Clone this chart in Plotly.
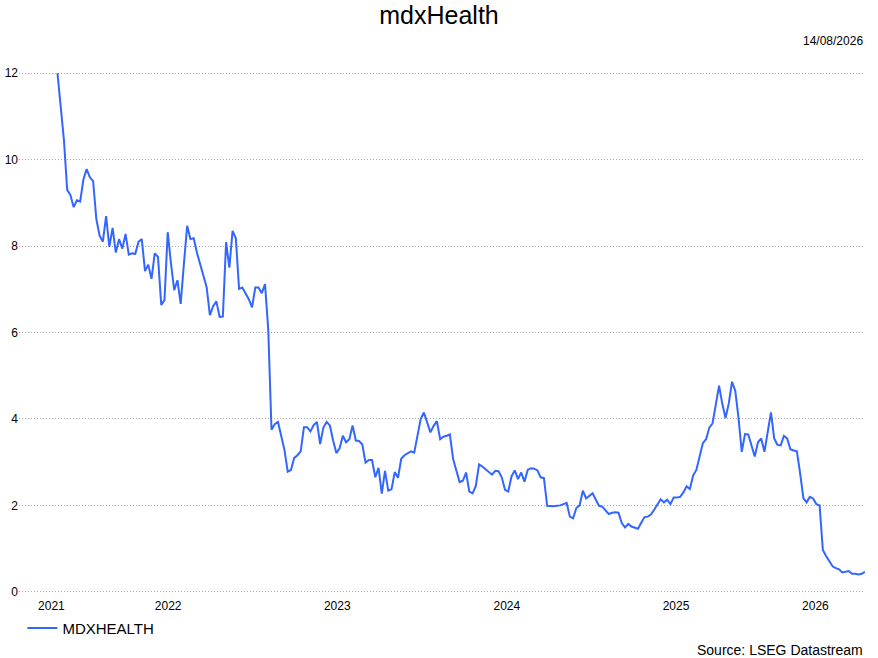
import plotly.graph_objects as go

TITLE = "mdxHealth"
AS_OF = "14/08/2026"
SERIES_NAME = "MDXHEALTH"
SOURCE = "Source: LSEG Datastream"

# weekly closes (Fridays)
DATES = [
    "2021-11-05", "2021-11-12", "2021-11-19", "2021-11-26",
    "2021-12-03", "2021-12-10", "2021-12-17", "2021-12-24", "2021-12-31",
    "2022-01-07", "2022-01-14", "2022-01-21", "2022-01-28",
    "2022-02-04", "2022-02-11", "2022-02-18", "2022-02-25",
    "2022-03-04", "2022-03-11", "2022-03-18", "2022-03-25",
    "2022-04-01", "2022-04-08", "2022-04-15", "2022-04-22", "2022-04-29",
    "2022-05-06", "2022-05-13", "2022-05-20", "2022-05-27",
    "2022-06-03", "2022-06-10", "2022-06-17", "2022-06-24",
    "2022-07-01", "2022-07-08", "2022-07-15", "2022-07-22", "2022-07-29",
    "2022-08-05", "2022-08-12", "2022-08-19", "2022-08-26",
    "2022-09-02", "2022-09-09", "2022-09-16", "2022-09-23", "2022-09-30",
    "2022-10-07", "2022-10-14", "2022-10-21", "2022-10-28",
    "2022-11-04", "2022-11-11", "2022-11-18", "2022-11-25",
    "2022-12-02", "2022-12-09", "2022-12-16", "2022-12-23", "2022-12-30",
    "2023-01-06", "2023-01-13", "2023-01-20", "2023-01-27",
    "2023-02-03", "2023-02-10", "2023-02-17", "2023-02-24",
    "2023-03-03", "2023-03-10", "2023-03-17", "2023-03-24", "2023-03-31",
    "2023-04-07", "2023-04-14", "2023-04-21", "2023-04-28",
    "2023-05-05", "2023-05-12", "2023-05-19", "2023-05-26",
    "2023-06-02", "2023-06-09", "2023-06-16", "2023-06-23", "2023-06-30",
    "2023-07-07", "2023-07-14", "2023-07-21", "2023-07-28",
    "2023-08-04", "2023-08-11", "2023-08-18", "2023-08-25",
    "2023-09-01", "2023-09-08", "2023-09-15", "2023-09-22", "2023-09-29",
    "2023-10-06", "2023-10-13", "2023-10-20", "2023-10-27",
    "2023-11-03", "2023-11-10", "2023-11-17", "2023-11-24",
    "2023-12-01", "2023-12-08", "2023-12-15", "2023-12-22", "2023-12-29",
    "2024-01-05", "2024-01-12", "2024-01-19", "2024-01-26",
    "2024-02-02", "2024-02-09", "2024-02-16", "2024-02-23",
    "2024-03-01", "2024-03-08", "2024-03-15", "2024-03-22", "2024-03-29",
    "2024-04-05", "2024-04-12", "2024-04-19", "2024-04-26",
    "2024-05-03", "2024-05-10", "2024-05-17", "2024-05-24", "2024-05-31",
    "2024-06-07", "2024-06-14", "2024-06-21", "2024-06-28",
    "2024-07-05", "2024-07-12", "2024-07-19", "2024-07-26",
    "2024-08-02", "2024-08-09", "2024-08-16", "2024-08-23", "2024-08-30",
    "2024-09-06", "2024-09-13", "2024-09-20", "2024-09-27",
    "2024-10-04", "2024-10-11", "2024-10-18", "2024-10-25",
    "2024-11-01", "2024-11-08", "2024-11-15", "2024-11-22", "2024-11-29",
    "2024-12-06", "2024-12-13", "2024-12-20", "2024-12-27",
    "2025-01-03", "2025-01-10", "2025-01-17", "2025-01-24", "2025-01-31",
    "2025-02-07", "2025-02-14", "2025-02-21", "2025-02-28",
    "2025-03-07", "2025-03-14", "2025-03-21", "2025-03-28",
    "2025-04-04", "2025-04-11", "2025-04-18", "2025-04-25",
    "2025-05-02", "2025-05-09", "2025-05-16", "2025-05-23", "2025-05-30",
    "2025-06-06", "2025-06-13", "2025-06-20", "2025-06-27",
    "2025-07-04", "2025-07-11", "2025-07-18", "2025-07-25",
    "2025-08-01", "2025-08-08", "2025-08-15", "2025-08-22", "2025-08-29",
    "2025-09-05", "2025-09-12", "2025-09-19", "2025-09-26",
    "2025-10-03", "2025-10-10", "2025-10-17", "2025-10-24", "2025-10-31",
    "2025-11-07", "2025-11-14", "2025-11-21", "2025-11-28",
    "2025-12-05", "2025-12-12", "2025-12-19", "2025-12-26",
    "2026-01-02", "2026-01-09", "2026-01-16", "2026-01-23", "2026-01-30",
    "2026-02-06", "2026-02-13", "2026-02-20", "2026-02-27",
    "2026-03-06", "2026-03-13", "2026-03-20", "2026-03-27",
    "2026-04-03", "2026-04-10", "2026-04-17", "2026-04-24",
    "2026-05-01", "2026-05-08", "2026-05-15", "2026-05-22", "2026-05-29",
    "2026-06-05", "2026-06-12", "2026-06-19", "2026-06-26",
    "2026-07-03", "2026-07-10", "2026-07-17", "2026-07-24", "2026-07-31",
    "2026-08-07", "2026-08-14",
]

PRICES = [
    12.00, 11.20, 10.45, 9.30, 9.18, 8.90, 9.06, 9.03, 9.54, 9.78,
    9.59, 9.50, 8.62, 8.24, 8.10, 8.69, 7.98, 8.42, 7.85, 8.16,
    7.94, 8.28, 7.80, 7.83, 7.82, 8.10, 8.16, 7.42, 7.57, 7.24,
    7.83, 7.75, 6.64, 6.75, 8.32, 7.60, 6.98, 7.21, 6.66, 7.60,
    8.47, 8.16, 8.18, 7.85, 7.60, 7.30, 7.05, 6.40, 6.61, 6.72,
    6.36, 6.37, 8.09, 7.50, 8.35, 8.18, 7.01, 7.04, 6.89, 6.77,
    6.58, 7.04, 7.04, 6.91, 7.12, 6.06, 3.75, 3.88, 3.93, 3.63,
    3.28, 2.78, 2.82, 3.10, 3.16, 3.25, 3.81, 3.81, 3.71, 3.86,
    3.93, 3.42, 3.80, 3.93, 3.85, 3.50, 3.21, 3.32, 3.61, 3.46,
    3.53, 3.85, 3.50, 3.49, 3.41, 2.99, 3.05, 3.05, 2.65, 2.87,
    2.27, 2.80, 2.34, 2.37, 2.77, 2.64, 3.08, 3.16, 3.21, 3.25,
    3.22, 3.63, 4.00, 4.15, 3.90, 3.69, 3.84, 3.95, 3.53, 3.59,
    3.61, 3.64, 3.07, 2.82, 2.54, 2.57, 2.76, 2.32, 2.28, 2.45,
    2.95, 2.90, 2.84, 2.76, 2.71, 2.80, 2.79, 2.65, 2.36, 2.32,
    2.67, 2.81, 2.61, 2.76, 2.55, 2.82, 2.86, 2.85, 2.81, 2.65,
    2.63, 1.99, 1.98, 1.98, 1.99, 2.00, 2.03, 2.06, 1.74, 1.70,
    1.94, 2.00, 2.34, 2.16, 2.22, 2.28, 2.13, 1.99, 1.97, 1.89,
    1.80, 1.83, 1.84, 1.83, 1.59, 1.49, 1.57, 1.51, 1.49, 1.46,
    1.60, 1.73, 1.74, 1.79, 1.90, 2.03, 2.14, 2.07, 2.13, 2.03,
    2.18, 2.18, 2.20, 2.30, 2.44, 2.38, 2.69, 2.82, 3.13, 3.44,
    3.53, 3.80, 3.90, 4.30, 4.77, 4.35, 4.02, 4.36, 4.86, 4.65,
    4.02, 3.24, 3.65, 3.64, 3.38, 3.13, 3.46, 3.55, 3.24, 3.68,
    4.15, 3.55, 3.40, 3.39, 3.61, 3.55, 3.30, 3.27, 3.25, 2.74,
    2.17, 2.07, 2.20, 2.16, 2.03, 2.00, 0.97, 0.83, 0.72, 0.59,
    0.55, 0.52, 0.45, 0.46, 0.48, 0.42, 0.42, 0.40, 0.42, 0.46,
]

assert len(DATES) == len(PRICES), (len(DATES), len(PRICES))

# year labels sit in the middle of the visible part of each year
TICK_DATES = ["2021-10-23", "2022-07-02", "2023-07-02", "2024-07-02", "2025-07-02", "2026-04-29"]
TICK_LABELS = ["2021", "2022", "2023", "2024", "2025", "2026"]
X_RANGE = ["2021-08-14", "2026-08-14"]
Y_TICKS = [0, 2, 4, 6, 8, 10, 12]

FONT = "Liberation Sans, Arial, sans-serif"
LINE_COLOR = "#3366ff"

fig = go.Figure()
fig.add_trace(go.Scatter(
    x=DATES,
    y=PRICES,
    mode="lines",
    name=SERIES_NAME,
    line=dict(color=LINE_COLOR, width=2),
))

fig.update_layout(
    width=878,
    height=658,
    margin=dict(l=19, r=13, t=71, b=64, autoexpand=False),
    paper_bgcolor="white",
    plot_bgcolor="white",
    font=dict(family=FONT, size=12, color="black"),
    title=dict(text=TITLE, x=0.5, xanchor="center", y=0.977, yanchor="middle",
               font=dict(family=FONT, size=25, color="black")),
    showlegend=True,
    legend=dict(orientation="h", x=0.004, xanchor="left", y=-0.034, yanchor="top",
                font=dict(family=FONT, size=15, color="black"),
                bgcolor="rgba(0,0,0,0)"),
    hovermode=False,
)

fig.update_xaxes(
    type="date",
    range=X_RANGE,
    tickvals=TICK_DATES,
    ticktext=TICK_LABELS,
    showgrid=False,
    zeroline=False,
    showline=False,
    ticks="",
    ticklabelstandoff=3,
    automargin=False,
    tickfont=dict(family=FONT, size=12, color="black"),
)

# small padding so the 0 and 12 grid lines are not clipped at the plot edge
fig.update_yaxes(
    range=[-0.05, 12.05],
    tickvals=Y_TICKS,
    showgrid=True,
    gridcolor="#a8a8a8",
    griddash="1px,2px",
    gridwidth=1,
    zeroline=False,
    showline=False,
    ticks="",
    automargin=False,
    tickfont=dict(family=FONT, size=12, color="black"),
)

fig.add_annotation(text=AS_OF, xref="paper", yref="paper", x=1, y=1.057,
                   xanchor="right", yanchor="middle", showarrow=False,
                   font=dict(family=FONT, size=12, color="black"))
fig.add_annotation(text=SOURCE, xref="paper", yref="paper", x=1, y=-0.107,
                   xanchor="right", yanchor="middle", showarrow=False,
                   font=dict(family=FONT, size=14, color="black"))

fig.write_html("out.html", config={"displayModeBar": False},
               post_script="document.body.style.margin='0';")
